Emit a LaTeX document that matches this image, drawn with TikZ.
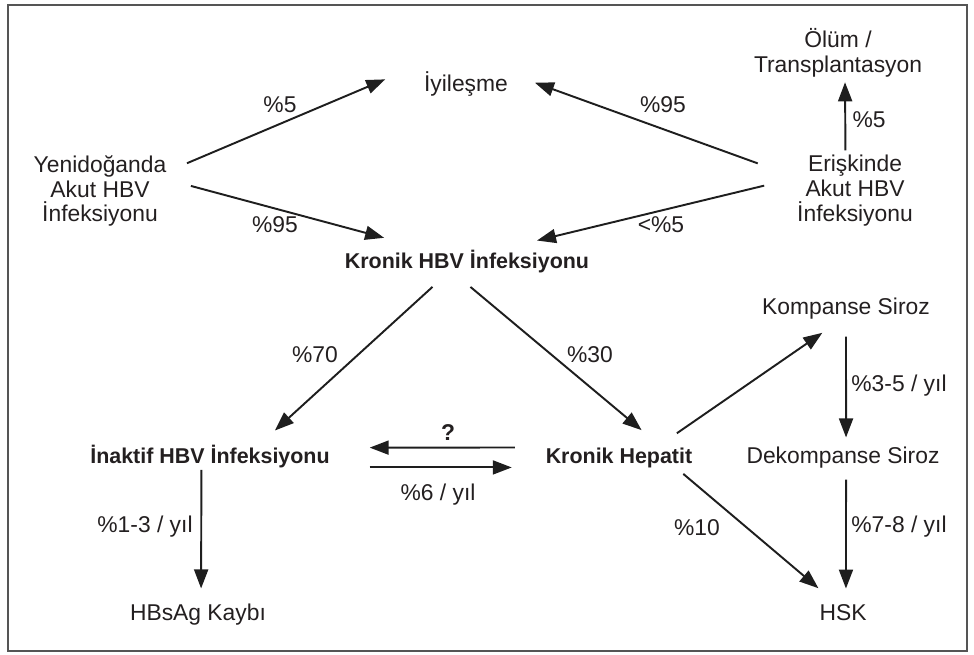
\documentclass[tikz,border=0pt]{standalone}
\usepackage{fontspec}
\setmainfont{Liberation Sans}
\usepackage{xcolor}
\definecolor{hbvtext}{RGB}{35,31,32}
\definecolor{hbvline}{RGB}{30,30,30}
\definecolor{hbvframe}{RGB}{85,85,85}
\usetikzlibrary{arrows.meta}

\tikzset{
  hbvfont/.style={font=\fontsize{13}{14.2}\selectfont},
  stage/.style={hbvfont, text=hbvtext, align=center, inner sep=0pt, outer sep=0pt},
  keystage/.style={stage, font=\fontsize{12.2}{14}\selectfont\bfseries},
  rate/.style={hbvfont, text=hbvtext, inner sep=0pt, anchor=base},
  flow/.style={draw=hbvline, line width=1.1pt, -{Triangle[length=0.38cm,width=0.28cm]}},
}

\begin{document}
\begin{tikzpicture}[x=0.02cm, y=-0.02cm]
  \useasboundingbox (0,0) rectangle (974,655);

  % Frame
  \draw[hbvframe, line width=1.2pt] (8,5) rectangle (967,651);

  % Acute infection and its outcomes
  \node[stage] (yeni) at (100,191) {Yenidoğanda\\Akut HBV\\İnfeksiyonu};
  \node[stage] (eris) at (855,191) {Erişkinde\\Akut HBV\\İnfeksiyonu};
  \node[stage, anchor=base, inner xsep=0.4cm, inner ysep=0.08cm] (iyi) at (466,92) {İyileşme};
  \node[stage] (olum) at (838,52.9) {Ölüm /\\Transplantasyon};
  \node[keystage, anchor=base] (kron) at (467,269) {Kronik HBV İnfeksiyonu};

  % Chronic phases
  \node[keystage, anchor=base] (inak) at (210,463) {İnaktif HBV İnfeksiyonu};
  \node[keystage, anchor=base] (hep) at (619,463) {Kronik Hepatit};
  \node[stage, anchor=base] (komp) at (846,315) {Kompanse Siroz};
  \node[stage, anchor=base] (dek) at (843,463) {Dekompanse Siroz};
  \node[stage, anchor=base] (hbs) at (198,620) {HBsAg Kaybı};
  \node[stage, anchor=base] (hsk) at (843,620) {HSK};

  % Arrows
  \draw[flow, shorten <=0.45cm, shorten >=0.41cm] (yeni.16) -- (iyi.168.7);
  \draw[flow, shorten <=0.51cm, shorten >=0.99cm] (yeni.10.7) -- (kron.162);
  \draw[flow, shorten <=0.84cm, shorten >=0.15cm] (eris.167.6) -- (iyi.4.6);
  \draw[flow, shorten <=0.68cm, shorten >=0.86cm] (eris.167.6) -- (kron.22);
  \draw[flow, shorten <=0.1cm, shorten >=0.1cm] (eris.105.6) -- (olum.-74.3);
  \draw[flow, shorten <=0.4cm, shorten >=0.42cm] (kron.210.1) -- (inak.13.3);
  \draw[flow, shorten <=0.42cm, shorten >=0.54cm] (kron.-138.4) -- (hep.13);
  \draw[flow, shorten <=0.66cm, shorten >=0.8cm] (hep.172) -- (inak.4.2);
  \draw[flow, shorten <=0.8cm, shorten >=0.68cm] (inak.south east) -- (hep.south west);
  \draw[flow, shorten <=0.05cm, shorten >=0.3cm] (inak.-127.4) -- (hbs.74.3);
  \draw[flow, shorten <=0.5cm, shorten >=0.46cm] (hep.15.2) -- (komp.-114.4);
  \draw[flow, shorten <=0.2cm, shorten >=0.49cm] (hep.-10.8) -- (hsk.126.6);
  \draw[flow, shorten <=0.34cm, shorten >=0.18cm] (komp.south) -- (dek.74.4);
  \draw[flow, shorten <=0.24cm, shorten >=0.31cm] (dek.-74.5) -- (hsk.70);

  % Rates
  \node[rate] (r1) at (280,113) {\%5};
  \node[rate] (r2) at (275,233) {\%95};
  \node[rate] (r3) at (663,113) {\%95};
  \node[rate] (r4) at (661,233) {<\%5};
  \node[rate] (r5) at (869,128) {\%5};
  \node[rate] (r6) at (315,362) {\%70};
  \node[rate] (r7) at (590,362) {\%30};
  \node[rate, font=\fontsize{13}{14.2}\selectfont\bfseries] (r8) at (448,440) {?};
  \node[rate] (r9) at (438,500) {\%6 / yıl};
  \node[rate] (r10) at (145,532) {\%1-3 / yıl};
  \node[rate] (r11) at (697,535) {\%10};
  \node[rate] (r12) at (899,391) {\%3-5 / yıl};
  \node[rate] (r13) at (899,532) {\%7-8 / yıl};
\end{tikzpicture}
\end{document}
